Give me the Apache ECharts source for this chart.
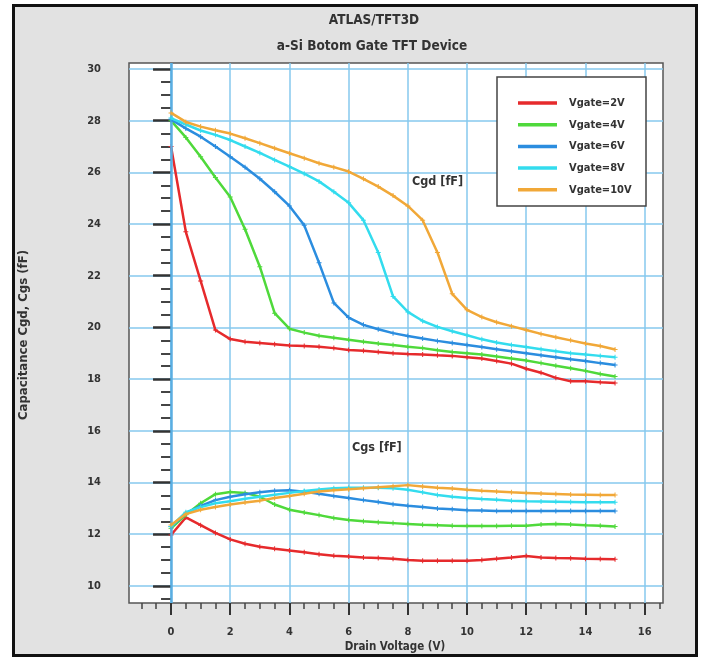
<!DOCTYPE html>
<html><head><meta charset="utf-8">
<script src="https://cdn.jsdelivr.net/npm/echarts@6/dist/echarts.min.js"></script>
<style>
html,body{margin:0;padding:0;background:#fff;}
#frame{position:absolute;left:12px;top:4px;width:686px;height:653px;box-sizing:border-box;border:3px solid #111;background:#e2e2e2;}
#chart{position:absolute;left:0;top:0;width:704px;height:659px;}
</style></head>
<body>
<div id="frame"></div>
<div id="chart"></div>
<script>
// Drain voltage (V) sample points
const voltage = [0,0.5,1,1.5,2,2.5,3,3.5,4,4.5,5,5.5,6,6.5,7,7.5,8,8.5,9,9.5,10,10.5,11,11.5,12,12.5,13,13.5,14,14.5,15];

// Cgd [fF]
const cgd2  = [27.0,23.7,21.8,19.9,19.55,19.45,19.4,19.35,19.3,19.28,19.25,19.2,19.13,19.1,19.05,19.0,18.97,18.95,18.92,18.9,18.85,18.8,18.7,18.6,18.4,18.25,18.05,17.92,17.92,17.88,17.85];
const cgd4  = [28.0,27.35,26.6,25.8,25.05,23.8,22.35,20.55,19.95,19.8,19.68,19.6,19.52,19.45,19.38,19.32,19.25,19.2,19.12,19.05,19.0,18.95,18.88,18.8,18.72,18.62,18.52,18.42,18.32,18.2,18.1];
const cgd6  = [28.05,27.7,27.38,27.0,26.6,26.2,25.75,25.25,24.7,23.95,22.5,20.95,20.38,20.1,19.93,19.78,19.67,19.57,19.48,19.4,19.32,19.24,19.16,19.08,19.0,18.92,18.85,18.77,18.7,18.62,18.55];
const cgd8  = [28.1,27.85,27.62,27.45,27.25,27.0,26.75,26.48,26.22,25.95,25.65,25.25,24.82,24.15,22.9,21.2,20.6,20.25,20.02,19.85,19.7,19.54,19.42,19.32,19.24,19.16,19.08,19.0,18.95,18.9,18.85];
const cgd10 = [28.3,27.95,27.77,27.63,27.5,27.32,27.13,26.93,26.74,26.55,26.35,26.2,26.03,25.75,25.45,25.1,24.7,24.15,22.9,21.3,20.68,20.4,20.2,20.05,19.9,19.75,19.62,19.5,19.38,19.28,19.15];

// Cgs [fF]
const cgs2  = [11.97,12.65,12.35,12.05,11.8,11.63,11.52,11.44,11.37,11.3,11.23,11.17,11.14,11.1,11.08,11.05,11.0,10.97,10.97,10.97,10.97,11.0,11.05,11.1,11.16,11.1,11.08,11.07,11.05,11.04,11.03];
const cgs4  = [12.23,12.75,13.2,13.55,13.63,13.6,13.45,13.15,12.95,12.84,12.74,12.63,12.55,12.5,12.46,12.43,12.4,12.37,12.35,12.33,12.32,12.32,12.32,12.33,12.33,12.38,12.4,12.38,12.35,12.33,12.3];
const cgs6  = [12.3,12.8,13.1,13.32,13.45,13.55,13.62,13.68,13.7,13.64,13.57,13.48,13.4,13.32,13.25,13.16,13.1,13.05,13.0,12.97,12.93,12.92,12.9,12.9,12.9,12.9,12.9,12.9,12.9,12.9,12.9];
const cgs8  = [12.3,12.85,13.05,13.2,13.28,13.37,13.45,13.53,13.6,13.67,13.73,13.78,13.8,13.8,13.8,13.78,13.72,13.62,13.52,13.45,13.4,13.36,13.33,13.3,13.28,13.27,13.26,13.25,13.24,13.24,13.24];
const cgs10 = [12.36,12.78,12.95,13.05,13.15,13.23,13.3,13.4,13.48,13.57,13.65,13.7,13.74,13.78,13.82,13.86,13.9,13.85,13.8,13.77,13.72,13.68,13.65,13.62,13.6,13.58,13.56,13.54,13.53,13.52,13.52];

const gateNames = ['Vgate=2V','Vgate=4V','Vgate=6V','Vgate=8V','Vgate=10V'];
const xMajor = [0,2,4,6,8,10,12,14,16];
const yMajor = [10,12,14,16,18,20,22,24,26,28,30];

const colors = ['#e62a2c','#4fd93b','#2b8ddf','#33dcee','#f1a838'];
const cgdSets = [cgd2,cgd4,cgd6,cgd8,cgd10];
const cgsSets = [cgs2,cgs4,cgs6,cgs8,cgs10];

const XMIN=-1.42, XMAX=16.62, YMIN=9.34, YMAX=30.23;
const xMinor=[], yMinor=[];
for (let v=-1; v<=16.5; v+=0.5) if (xMajor.indexOf(v)<0) xMinor.push(v);
for (let v=9.5; v<=30; v+=0.5) if (yMajor.indexOf(v)<0) yMinor.push(v);

const FONT = "'Liberation Sans Narrow','DejaVu Sans Condensed','Liberation Sans',sans-serif";
const cross = 'path://M4,0h2v4h4v2h-4v4h-2v-4h-4v-2h4z';

const series = [];
// dark blue x=0 line
series.push({type:'line', data:[], z:1, silent:true, xAxisIndex:0, yAxisIndex:0,
  markLine:{silent:true, symbol:'none', label:{show:false},
    lineStyle:{color:'#5aaee2', width:2.5, type:'solid'}, data:[{xAxis:0}]}});
for (let g=0; g<5; g++) {
  [cgdSets[g], cgsSets[g]].forEach(arr => {
    series.push({
      type:'line', name:gateNames[g], xAxisIndex:0, yAxisIndex:0,
      data: voltage.map((v,i)=>[v,arr[i]]),
      symbol: cross, symbolSize:5, showSymbol:true,
      itemStyle:{color:colors[g]},
      lineStyle:{color:colors[g], width:2.5},
      z: 3+g
    });
  });
}

const chart = echarts.init(document.getElementById('chart'), null, {renderer:'canvas'});
chart.setOption({
  backgroundColor:'transparent',
  animation:false,
  textStyle:{fontFamily:FONT},
  grid:{left:129, right:41, top:63, bottom:56, show:true, backgroundColor:'#ffffff', borderColor:'#555', borderWidth:1.5, containLabel:false},
  xAxis:[
    {type:'value', min:XMIN, max:XMAX, splitNumber:9, position:'bottom',
     axisLine:{show:false},
     axisTick:{show:true, customValues:xMajor, length:12, lineStyle:{color:'#333', width:2}},
     axisLabel:{customValues:xMajor, margin:24, fontSize:11, fontWeight:'bold', color:'#333', fontFamily:FONT},
     splitLine:{show:true, lineStyle:{color:'#86c8ee', width:1.5}}},
    {type:'value', min:XMIN, max:XMAX, splitNumber:9, position:'bottom',
     axisLine:{show:false}, axisLabel:{show:false}, splitLine:{show:false},
     axisTick:{show:true, customValues:xMinor, length:6, lineStyle:{color:'#444', width:1.5}}}
  ],
  yAxis:[
    {type:'value', min:YMIN, max:YMAX, splitNumber:10, position:'left',
     axisLine:{show:false},
     axisTick:{show:true, customValues:yMajor, length:18, lineStyle:{color:'#333', width:2.5}},
     axisLabel:{customValues:yMajor, margin:28, fontSize:11, fontWeight:'bold', color:'#333', fontFamily:FONT},
     splitLine:{show:true, lineStyle:{color:'#86c8ee', width:1.5}}},
    {type:'value', min:YMIN, max:YMAX, splitNumber:10, position:'left',
     axisLine:{show:false}, axisLabel:{show:false}, splitLine:{show:false},
     axisTick:{show:true, customValues:yMinor, length:10, lineStyle:{color:'#444', width:2}}}
  ],
  legend:{
    data:gateNames, orient:'vertical', left:513, top:91, z:20,
    icon:'rect', itemWidth:39, itemHeight:3.5, itemGap:7.7,
    textStyle:{fontFamily:FONT, fontSize:11, fontWeight:'bold', color:'#333', lineHeight:14, padding:[0,0,0,7]},
    selectedMode:false
  },
  graphic:[
    {type:'rect', z:10, shape:{x:497, y:77, width:149, height:129}, style:{fill:'#fff', stroke:'#444', lineWidth:1.5}},
    {type:'text', x:374, y:20, style:{text:'ATLAS/TFT3D', font:"bold 13.5px "+FONT, fill:'#333', textAlign:'center', textVerticalAlign:'middle'}},
    {type:'text', x:372, y:46, style:{text:'a-Si Botom Gate TFT Device', font:"bold 13.5px "+FONT, fill:'#333', textAlign:'center', textVerticalAlign:'middle'}},
    {type:'text', x:395, y:647, style:{text:'Drain Voltage (V)', font:"bold 11.5px "+FONT, fill:'#333', textAlign:'center', textVerticalAlign:'middle'}},
    {type:'text', x:24, y:335, rotation:Math.PI/2, style:{text:'Capacitance Cgd, Cgs (fF)', font:"bold 13px "+FONT, fill:'#333', textAlign:'center', textVerticalAlign:'middle'}},
    {type:'text', x:412, y:182, z:10, style:{text:'Cgd [fF]', font:"bold 12.5px "+FONT, fill:'#333', textAlign:'left', textVerticalAlign:'middle'}},
    {type:'text', x:352, y:448, z:10, style:{text:'Cgs [fF]', font:"bold 12.5px "+FONT, fill:'#333', textAlign:'left', textVerticalAlign:'middle'}}
  ],
  series: series
});
</script>
</body></html>
